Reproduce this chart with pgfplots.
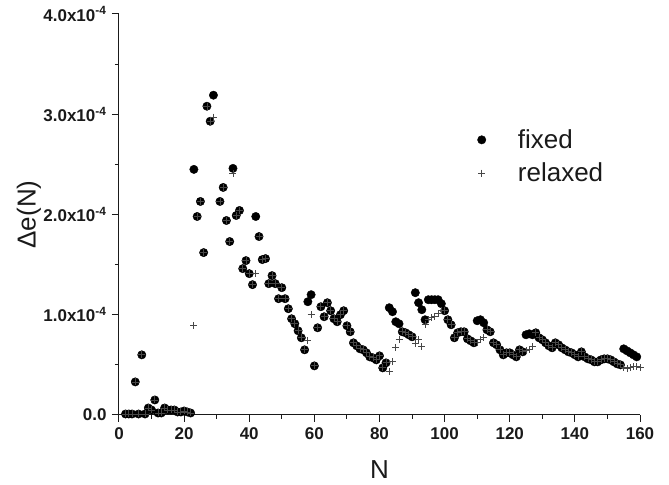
\documentclass[border=0pt]{standalone}
\usepackage{fontspec}
\setmainfont{Liberation Sans}
\usepackage{pgfplots}
\pgfplotsset{compat=1.18}
\usepackage{pgfplotstable}
\definecolor{ink}{HTML}{1A1A1A}

\pgfplotstableread{
N fixed relaxed
2 0.01 0.01
3 0.01 0.01
4 0.01 0.01
5 0.33 0.33
6 0.01 0.01
7 0.60 0.60
8 0.01 0.01
9 0.07 0.07
10 0.05 0.05
11 0.15 0.15
12 0.02 0.02
13 0.02 0.02
14 0.07 0.07
15 0.05 0.05
16 0.05 0.05
17 0.05 0.05
18 0.03 0.03
19 0.03 0.03
20 0.04 0.04
21 0.03 0.03
22 0.02 0.02
23 2.45 0.89
24 1.98 1.98
25 2.13 2.13
26 1.62 1.62
27 3.08 3.08
28 2.93 2.93
29 3.19 2.97
31 2.13 2.13
32 2.27 2.27
33 1.94 1.94
34 1.73 1.73
35 2.46 2.41
36 1.99 1.99
37 2.04 2.04
38 1.46 1.46
39 1.54 1.54
40 1.41 1.41
41 1.30 1.30
42 1.98 1.41
43 1.78 1.78
44 1.55 1.55
45 1.56 1.56
46 1.31 1.31
47 1.39 1.39
48 1.31 1.31
49 1.16 1.16
50 1.27 1.27
51 1.16 1.16
52 1.06 1.06
53 0.96 0.96
54 0.91 0.91
55 0.84 0.84
56 0.77 0.77
57 0.65 0.65
58 1.13 0.74
59 1.20 1.00
60 0.49 0.49
61 0.87 0.87
62 1.08 1.08
63 0.98 0.98
64 1.12 1.12
65 1.04 1.04
66 0.96 0.96
67 0.93 0.93
68 1.00 1.00
69 1.04 1.04
70 0.89 0.89
71 0.83 0.83
72 0.72 0.72
73 0.69 0.69
74 0.66 0.66
75 0.65 0.65
76 0.62 0.62
77 0.58 0.58
78 0.57 0.57
79 0.55 0.55
80 0.59 0.59
81 0.47 0.47
82 0.52 0.52
83 1.07 0.43
84 1.03 0.53
85 0.93 0.67
86 0.91 0.75
87 0.83 0.83
88 0.82 0.82
89 0.80 0.80
90 0.78 0.78
91 1.22 0.71
92 1.12 0.75
93 1.05 0.68
94 0.95 0.90
95 1.15 0.95
96 1.15 0.97
97 1.15 0.98
98 1.15 1.01
99 1.11 1.04
100 1.04 1.04
101 0.95 0.95
102 0.90 0.90
103 0.77 0.77
104 0.82 0.82
105 0.83 0.83
106 0.83 0.83
107 0.76 0.76
108 0.74 0.74
109 0.72 0.72
110 0.94 0.72
111 0.95 0.75
112 0.92 0.77
113 0.85 0.85
114 0.83 0.83
115 0.72 0.72
116 0.70 0.70
117 0.65 0.65
118 0.60 0.60
119 0.62 0.62
120 0.62 0.62
121 0.60 0.60
122 0.58 0.58
123 0.65 0.65
124 0.63 0.63
125 0.80 0.64
126 0.81 0.65
127 0.80 0.68
128 0.82 0.82
129 0.77 0.77
130 0.75 0.75
131 0.72 0.72
132 0.69 0.69
133 0.67 0.67
134 0.72 0.72
135 0.70 0.70
136 0.67 0.67
137 0.65 0.65
138 0.63 0.63
139 0.62 0.62
140 0.60 0.60
141 0.58 0.58
142 0.63 0.63
143 0.58 0.58
144 0.56 0.56
145 0.55 0.55
146 0.53 0.53
147 0.53 0.53
148 0.55 0.55
149 0.56 0.56
150 0.56 0.56
151 0.55 0.55
152 0.53 0.53
153 0.51 0.51
154 0.50 0.50
155 0.66 0.47
156 0.64 0.46
157 0.62 0.47
158 0.60 0.48
159 0.58 0.48
160 nan 0.47
}\data

\begin{document}
\begin{tikzpicture}
\begin{axis}[
  name=ax,
  scale only axis, width=521pt, height=401pt,
  xmin=0, xmax=160, ymin=0, ymax=4,
  axis x line*=bottom, axis y line*=left,
  axis line style={-, ink, line width=1pt},
  xtick={0,20,...,160},
  xticklabels={0,20,40,60,80,100,120,140,160},
  minor x tick num=1,
  ytick={0,1,2,3,4},
  yticklabels={0.0,
    1.0x10\textsuperscript{-4},
    2.0x10\textsuperscript{-4},
    3.0x10\textsuperscript{-4},
    4.0x10\textsuperscript{-4}},
  minor y tick num=1,
  tick align=outside,
  major tick length=7pt, minor tick length=4pt,
  tick style={ink, line width=1pt},
  ticklabel style={font=\fontsize{17}{19}\selectfont\bfseries, text=ink},
  xticklabel style={yshift=-2pt},
  yticklabel style={xshift=-2pt},
  xlabel={N}, ylabel={Δe(N)},
  label style={font=\fontsize{26}{30}\selectfont, text=ink},
  xlabel style={at={(axis description cs:0.5,0)}, anchor=center, yshift=-55pt},
  ylabel style={at={(axis description cs:0,0.5)}, anchor=center, yshift=90pt},
  legend style={draw=none, fill=none, at={(0.682,0.722)}, anchor=north west,
    font=\fontsize{26}{30}\selectfont, text=ink, row sep=9pt, column sep=30pt},
  legend cell align=left,
  clip=true,
]
\addplot[only marks, mark=*, mark size=4.2pt, mark options={fill=black, draw=black}]
  table[x=N, y=fixed] {\data};
\addlegendentry{fixed}
\addplot[only marks, mark=+, mark size=3.5pt, color=black!72, mark options={line width=0.8pt}]
  table[x=N, y=relaxed] {\data};
\addlegendentry{relaxed}
\end{axis}
\path ([xshift=-119pt,yshift=-70pt]ax.south west) rectangle ([xshift=29pt,yshift=14pt]ax.north east);
\end{tikzpicture}
\end{document}
